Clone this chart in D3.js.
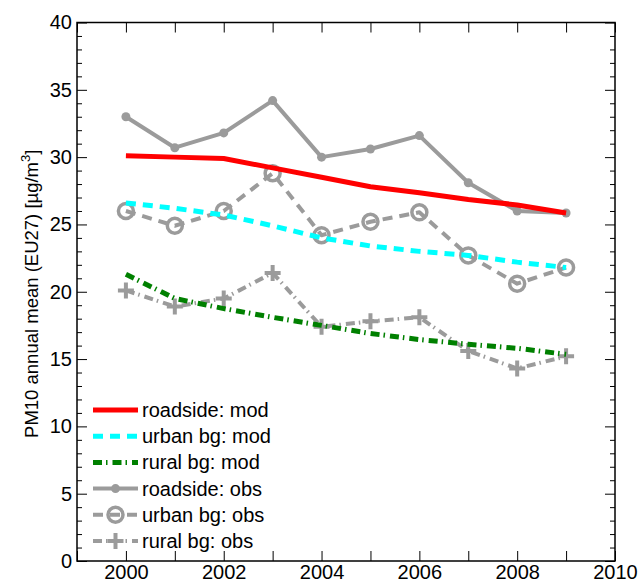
<!DOCTYPE html>
<html lang="en">
<head>
<meta charset="UTF-8">
<title>PM10 annual mean</title>
<style>
  body { margin: 0; background: #fff; }
  text { font-family: "Liberation Sans", Arial, sans-serif; }
</style>
</head>
<body>
<svg id="chart"></svg>
<script src="https://cdn.jsdelivr.net/npm/d3@7/dist/d3.min.js"></script>
<script>
const years = [2000, 2001, 2002, 2003, 2004, 2005, 2006, 2007, 2008, 2009];
const roadsideMod = [30.1, 30.0, 29.9, 29.2, 28.5, 27.8, 27.35, 26.85, 26.45, 25.85];
const urbanMod = [26.6, 26.2, 25.7, 24.9, 24.0, 23.4, 23.0, 22.7, 22.2, 21.8];
const ruralMod = [21.3, 19.5, 18.75, 18.1, 17.5, 16.9, 16.45, 16.1, 15.8, 15.35];
const roadsideObs = [33.0, 30.7, 31.8, 34.2, 30.0, 30.6, 31.6, 28.1, 26.0, 25.85];
const urbanObs = [26.0, 24.9, 26.0, 28.8, 24.2, 25.2, 25.9, 22.7, 20.6, 21.8];
const ruralObs = [20.1, 18.9, 19.5, 21.4, 17.4, 17.8, 18.1, 15.6, 14.3, 15.2];
const xTicks = [2000, 2002, 2004, 2006, 2008, 2010];
const yTicks = [0, 5, 10, 15, 20, 25, 30, 35, 40];

const W = 640, H = 587;
const margin = { top: 22.5, right: 25, bottom: 26, left: 77 };
const gray = "#9b9b9b";

const svg = d3.select("#chart").attr("width", W).attr("height", H);
const x = d3.scaleLinear().domain([1999, 2010]).range([margin.left, W - margin.right]);
const y = d3.scaleLinear().domain([0, 40]).range([H - margin.bottom, margin.top]);

// series styles
const series = [
  { name: "roadside: mod", values: roadsideMod, color: "red", width: 5, dash: null },
  { name: "urban bg: mod", values: urbanMod, color: "cyan", width: 5, dash: "10,7" },
  { name: "rural bg: mod", values: ruralMod, color: "#008000", width: 5, dash: "9,4,1.5,5" },
  { name: "roadside: obs", values: roadsideObs, color: gray, width: 4, dash: null, marker: "dot" },
  { name: "urban bg: obs", values: urbanObs, color: gray, width: 4, dash: "10,7", marker: "circle" },
  { name: "rural bg: obs", values: ruralObs, color: gray, width: 4, dash: "9,4,1.5,5", marker: "plus" }
];

// axes box with inward ticks
function boxAxis(axisGen, transform) {
  const g = svg.append("g").attr("transform", transform).call(axisGen);
  g.select(".domain").remove();
  g.selectAll("line").attr("stroke", "#000").attr("stroke-width", 1);
  return g;
}
const minorY = d3.range(0, 41, 1).filter(d => d % 5 !== 0);
const allYears = d3.range(1999, 2011);

boxAxis(d3.axisLeft(y).tickValues(yTicks).tickSize(-10).tickPadding(5).tickFormat(d3.format("d")),
  `translate(${margin.left},0)`)
  .selectAll("text").attr("font-size", 20).attr("fill", "#000");
boxAxis(d3.axisLeft(y).tickValues(minorY).tickSize(-5).tickFormat(""), `translate(${margin.left},0)`);
boxAxis(d3.axisRight(y).tickValues(yTicks).tickSize(-10).tickFormat(""), `translate(${W - margin.right},0)`);
boxAxis(d3.axisRight(y).tickValues(minorY).tickSize(-5).tickFormat(""), `translate(${W - margin.right},0)`);

boxAxis(d3.axisBottom(x).tickValues(allYears).tickSize(-10).tickFormat(""), `translate(0,${H - margin.bottom})`);
boxAxis(d3.axisBottom(x).tickValues(xTicks).tickSize(0).tickPadding(4).tickFormat(d3.format("d")),
  `translate(0,${H - margin.bottom})`)
  .selectAll("text").attr("font-size", 20).attr("fill", "#000");
boxAxis(d3.axisTop(x).tickValues(allYears).tickSize(-10).tickFormat(""), `translate(0,${margin.top})`);

svg.append("rect")
  .attr("x", margin.left).attr("y", margin.top)
  .attr("width", W - margin.left - margin.right)
  .attr("height", H - margin.top - margin.bottom)
  .attr("fill", "none").attr("stroke", "#000").attr("stroke-width", 1.5);

// y label
const yl = svg.append("text")
  .attr("transform", `translate(38,${(margin.top + H - margin.bottom) / 2 + 2}) rotate(-90)`)
  .attr("text-anchor", "middle").attr("font-size", 18.5).attr("fill", "#000");
yl.append("tspan").text("PM10 annual mean (EU27) [\u00b5g/m");
yl.append("tspan").attr("font-size", 13).attr("dy", -8).text("3");
yl.append("tspan").attr("dy", 8).text("]");

// markers
function drawMarker(g, type, cx, cy) {
  if (type === "dot") {
    g.append("circle").attr("cx", cx).attr("cy", cy).attr("r", 4.5).attr("fill", gray);
  } else if (type === "circle") {
    g.append("circle").attr("cx", cx).attr("cy", cy).attr("r", 7.5)
      .attr("fill", "none").attr("stroke", gray).attr("stroke-width", 3.5);
  } else if (type === "plus") {
    g.append("path").attr("d", `M${cx - 8},${cy}H${cx + 8}M${cx},${cy - 8}V${cy + 8}`)
      .attr("stroke", gray).attr("stroke-width", 4).attr("fill", "none");
  }
}

const line = d3.line().x((d, i) => x(years[i])).y(d => y(d));
const plot = svg.append("g");
// draw obs first, model lines on top
const order = [3, 4, 5, 0, 1, 2];
order.forEach(k => {
  const s = series[k];
  const g = plot.append("g");
  g.append("path").datum(s.values)
    .attr("d", line)
    .attr("fill", "none")
    .attr("stroke", s.color)
    .attr("stroke-width", s.width)
    .attr("stroke-dasharray", s.dash)
    .attr("stroke-linejoin", "round");
  if (s.marker) s.values.forEach((v, i) => drawMarker(g, s.marker, x(years[i]), y(v)));
});

// legend
const legend = svg.append("g");
series.forEach((s, i) => {
  const ly = 410 + i * 26.2;
  const g = legend.append("g");
  g.append("line").attr("x1", 93).attr("x2", 138).attr("y1", ly).attr("y2", ly)
    .attr("stroke", s.color).attr("stroke-width", s.width).attr("stroke-dasharray", s.dash);
  if (s.marker) drawMarker(g, s.marker, 115.5, ly);
  g.append("text").attr("x", 142).attr("y", ly).attr("dy", "0.35em")
    .attr("font-size", 20).attr("fill", "#000").text(s.name);
});
</script>
</body>
</html>
